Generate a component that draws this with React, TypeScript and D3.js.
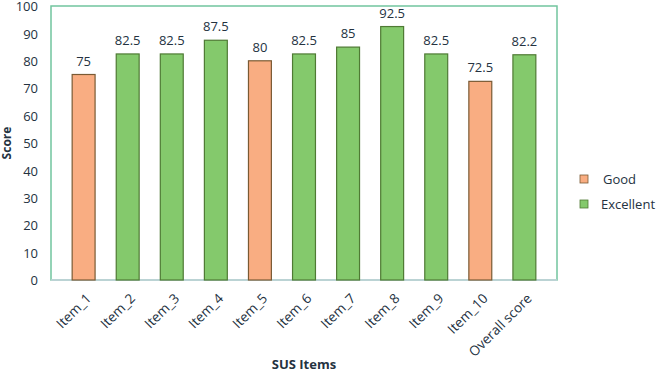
import React, { useEffect, useRef } from "react";
import * as d3 from "d3";

const items = [
  "Item_1",
  "Item_2",
  "Item_3",
  "Item_4",
  "Item_5",
  "Item_6",
  "Item_7",
  "Item_8",
  "Item_9",
  "Item_10",
  "Overall score",
];
const scores = [75, 82.5, 82.5, 87.5, 80, 82.5, 85, 92.5, 82.5, 72.5, 82.2];
const ratings = [
  "Good",
  "Excellent",
  "Excellent",
  "Excellent",
  "Good",
  "Excellent",
  "Excellent",
  "Excellent",
  "Excellent",
  "Good",
  "Excellent",
];
const legendKeys = ["Good", "Excellent"];
const yTicks = [0, 10, 20, 30, 40, 50, 60, 70, 80, 90, 100];

const fills: Record<string, string> = { Good: "#f9ad82", Excellent: "#84c96c" };
const strokes: Record<string, string> = { Good: "#7a5a34", Excellent: "#4f7a34" };
const textColor = "#24323f";
const font = "'Open Sans', 'Noto Sans', sans-serif";

export default function App() {
  const ref = useRef<SVGSVGElement>(null);

  useEffect(() => {
    const margin = { top: 6, left: 51, right: 113, bottom: 92 };
    const W = 670;
    const H = 372;
    const width = W - margin.left - margin.right;
    const height = H - margin.top - margin.bottom;

    const svg = d3.select(ref.current);
    svg.selectAll("*").remove();

    const g = svg
      .append("g")
      .attr("transform", `translate(${margin.left},${margin.top})`);

    const x = d3.scaleBand().domain(items).range([0, width]).padding(0.48);
    const y = d3.scaleLinear().domain([0, 100]).range([height, 0]);

    const data = items.map((name, i) => ({
      name,
      score: scores[i],
      rating: ratings[i],
    }));

    // plot frame
    g.append("rect")
      .attr("x", 0)
      .attr("y", 0)
      .attr("width", width)
      .attr("height", height)
      .attr("fill", "none")
      .attr("stroke", "#72c59e")
      .attr("stroke-width", 1.5);

    // bottom axis line
    g.append("line")
      .attr("x1", 0)
      .attr("x2", width)
      .attr("y1", height)
      .attr("y2", height)
      .attr("stroke", "#c9d3de")
      .attr("stroke-width", 1.5);

    // y tick labels
    g.selectAll(".ytick")
      .data(yTicks)
      .join("text")
      .attr("class", "ytick")
      .attr("x", -13)
      .attr("y", (d) => y(d))
      .attr("dy", "0.4em")
      .attr("text-anchor", "end")
      .attr("font-size", 13)
      .attr("font-family", font)
      .attr("fill", textColor)
      .text((d) => d);

    // bars
    g.selectAll(".bar")
      .data(data)
      .join("rect")
      .attr("class", "bar")
      .attr("x", (d) => x(d.name)!)
      .attr("y", (d) => y(d.score))
      .attr("width", x.bandwidth())
      .attr("height", (d) => height - y(d.score))
      .attr("fill", (d) => fills[d.rating])
      .attr("stroke", (d) => strokes[d.rating])
      .attr("stroke-width", 1.2);

    // value labels
    g.selectAll(".val")
      .data(data)
      .join("text")
      .attr("class", "val")
      .attr("x", (d) => x(d.name)! + x.bandwidth() / 2)
      .attr("y", (d) => y(d.score) - 9)
      .attr("text-anchor", "middle")
      .attr("font-size", 13)
      .attr("font-family", font)
      .attr("fill", textColor)
      .text((d) => d.score);

    // x tick labels, rotated
    g.selectAll(".xtick")
      .data(items)
      .join("text")
      .attr("class", "xtick")
      .attr(
        "transform",
        (d) => `translate(${x(d)! + x.bandwidth() / 2 + 5},${height + 16}) rotate(-45)`
      )
      .attr("text-anchor", "end")
      .attr("dy", "0.35em")
      .attr("font-size", 13.5)
      .attr("font-family", font)
      .attr("fill", textColor)
      .text((d) => d);

    // axis titles
    svg
      .append("text")
      .attr("x", 304)
      .attr("y", 369)
      .attr("text-anchor", "middle")
      .attr("font-size", 13)
      .attr("font-weight", "bold")
      .attr("font-family", font)
      .attr("fill", textColor)
      .text("SUS Items");

    svg
      .append("text")
      .attr("transform", `translate(11,${margin.top + height / 2}) rotate(-90)`)
      .attr("text-anchor", "middle")
      .attr("font-size", 12)
      .attr("font-weight", "bold")
      .attr("font-family", font)
      .attr("fill", textColor)
      .text("Score");

    // legend
    const legend = svg
      .selectAll(".legend")
      .data(legendKeys)
      .join("g")
      .attr("class", "legend")
      .attr("transform", (_, i) => `translate(580,${179 + i * 25})`);

    legend
      .append("rect")
      .attr("x", 0)
      .attr("y", -4)
      .attr("width", 8)
      .attr("height", 8)
      .attr("fill", (d) => fills[d])
      .attr("stroke", (d) => strokes[d])
      .attr("stroke-width", 0.8);

    legend
      .append("text")
      .attr("x", (d) => (d === "Good" ? 23 : 21))
      .attr("y", 0)
      .attr("dy", "0.35em")
      .attr("font-size", 13)
      .attr("font-family", font)
      .attr("fill", textColor)
      .text((d) => d);
  }, []);

  return (
    <svg
      ref={ref}
      width={670}
      height={372}
      style={{ position: "absolute", left: 0, top: 0, background: "#fff" }}
    />
  );
}
